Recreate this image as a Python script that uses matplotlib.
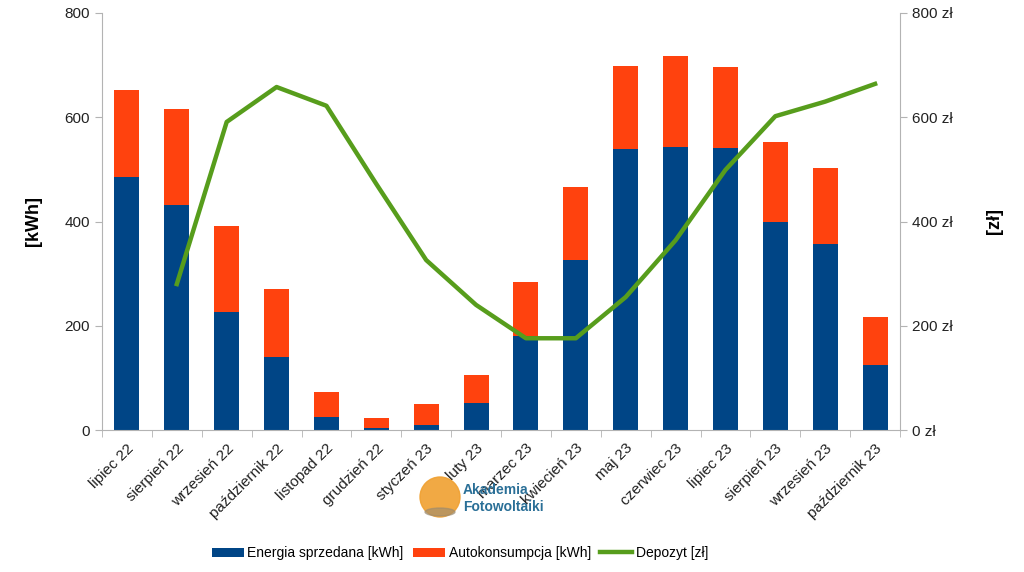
import matplotlib
matplotlib.use("Agg")
import matplotlib.pyplot as plt
import numpy as np
from matplotlib.patches import Ellipse

plt.rcParams['font.family'] = ['Liberation Sans', 'DejaVu Sans']

months = ["lipiec 22", "sierpień 22", "wrzesień 22", "październik 22", "listopad 22",
          "grudzień 22", "styczeń 23", "luty 23", "marzec 23", "kwiecień 23", "maj 23",
          "czerwiec 23", "lipiec 23", "sierpień 23", "wrzesień 23", "październik 23"]
sold = [485, 432, 226, 140, 25, 3, 10, 52, 181, 326, 539, 543, 541, 399, 357, 125]
total = [652, 616, 391, 270, 73, 23, 50, 105, 284, 466, 698, 717, 696, 552, 503, 217]
autocons = [t - s for t, s in zip(total, sold)]
deposit = [np.nan, 280, 591, 658, 622, 472, 326, 240, 176, 176, 255, 364, 499, 602, 630, 664]

c_blue = "#004586"
c_orange = "#ff420e"
c_green = "#579d1c"
c_axis = "#b3b3b3"

W, H = 1024, 572
fig = plt.figure(figsize=(W/100, H/100), dpi=100)
ax = fig.add_axes([102/W, 1 - 430/H, 798/W, 417/H])
ax2 = ax.twinx()

x = np.arange(len(months))
b1 = ax.bar(x, sold, width=0.5, color=c_blue, label="Energia sprzedana [kWh]", zorder=2)
b2 = ax.bar(x, autocons, width=0.5, bottom=sold, color=c_orange, label="Autokonsumpcja [kWh]", zorder=2)
l1, = ax2.plot(x, deposit, color=c_green, lw=3.2, label="Depozyt [zł]", solid_joinstyle='round')

ax.set_xlim(-0.5, len(months) - 0.5)
ax.set_ylim(0, 800)
ax2.set_ylim(0, 800)
ax.set_yticks([0, 200, 400, 600, 800])
ax2.set_yticks([0, 200, 400, 600, 800])
ax2.set_yticklabels([f"{v} zł" for v in [0, 200, 400, 600, 800]])

ax.set_xticks(x)
ax.set_xticklabels(months, rotation=45, ha='right', rotation_mode='anchor', fontsize=11, color="#222222")
ax.set_xticks(np.arange(-0.5, len(months), 1.0), minor=True)
ax.tick_params(axis='x', which='major', length=0, pad=8)
ax.tick_params(axis='x', which='minor', length=5, color=c_axis, direction='out')
ax.tick_params(axis='y', length=5, color=c_axis, labelsize=11, labelcolor="#222222")
ax2.tick_params(axis='y', length=5, color=c_axis, labelsize=11, labelcolor="#222222")

for a in (ax, ax2):
    a.spines['top'].set_visible(False)
    for s in ('left', 'right', 'bottom'):
        a.spines[s].set_color(c_axis)
ax.spines['right'].set_visible(False)
ax2.spines['left'].set_visible(False)
ax2.spines['bottom'].set_visible(False)

ax.set_ylabel("[kWh]", fontsize=13, fontweight='bold', labelpad=16)
ax2.set_ylabel("[zł]", fontsize=13, fontweight='bold', labelpad=24)

fig.legend(handles=[b1, b2, l1], loc='center', bbox_to_anchor=(460/W, 1 - 553/H),
           ncol=3, frameon=False, fontsize=10, handlelength=2.3, handleheight=0.6,
           handletextpad=0.25, columnspacing=0.7)

# watermark logo
fig.patches.append(Ellipse((440/W, 1 - 497/H), 40/W, 40/H, transform=fig.transFigure,
                           color="#f0a030", zorder=5, alpha=0.9))
fig.patches.append(Ellipse((440/W, 1 - 512/H), 30/W, 8/H, transform=fig.transFigure,
                           color="#9a8a70", zorder=6, alpha=0.6))
fig.text(463/W, 1 - 490/H, "Akademia", fontsize=10, fontweight='bold', color="#2a6f97", ha='left', va='center')
fig.text(463/W, 1 - 507/H, "Fotowoltaiki", fontsize=10, fontweight='bold', color="#2a6f97", ha='left', va='center')

fig.savefig("out.png", dpi=100)
